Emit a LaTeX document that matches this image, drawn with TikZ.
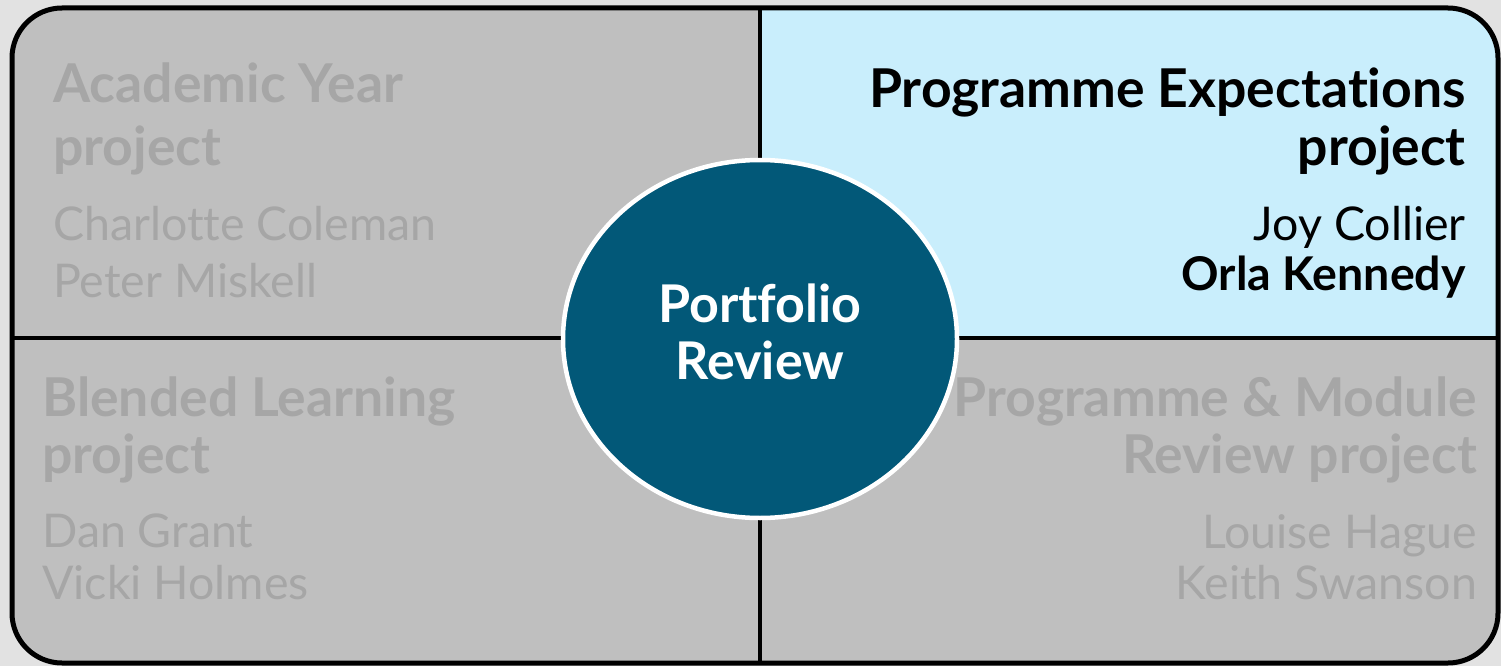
\documentclass[tikz,border=0pt]{standalone}
\usepackage{fontspec}
\setmainfont{Lato}[Ligatures=NoCommon]
\usetikzlibrary{shapes.geometric}

\definecolor{pagebg}{HTML}{E2E2E2}
\definecolor{quadgray}{HTML}{BFBFBF}
\definecolor{quadblue}{HTML}{C9EEFC}
\definecolor{dimtext}{HTML}{A6A6A6}
\definecolor{hubfill}{HTML}{025878}

\tikzset{
  frame/.style={line width=5pt, rounded corners=50pt},
  divider/.style={line width=4.5pt},
  headdim/.style={font=\fontsize{53.5}{62}\selectfont\bfseries, text=dimtext, inner sep=0pt},
  namedim/.style={font=\fontsize{46.5}{58}\selectfont, text=dimtext, inner sep=0pt},
  headon/.style={font=\fontsize{53.5}{62}\selectfont\bfseries, text=black, inner sep=0pt},
  nameon/.style={font=\fontsize{46.5}{58}\selectfont, text=black, inner sep=0pt},
  namebold/.style={font=\fontsize{46.5}{58}\selectfont\bfseries, text=black, inner sep=0pt},
  hub/.style={ellipse, fill=hubfill, draw=white, line width=4.5pt, inner sep=0pt,
              minimum width=394pt, minimum height=358pt},
  hubtext/.style={font=\fontsize{52}{56}\selectfont\bfseries, text=white, inner sep=0pt},
}

\begin{document}
\begin{tikzpicture}[x=1pt, y=-1pt]
  \useasboundingbox (0,0) rectangle (1501,666);
  \fill[pagebg] (0,0) rectangle (1501,666);

  % corners of the board and meeting points of the dividers
  \coordinate (tl) at (12,8);
  \coordinate (br) at (1498,663);
  \coordinate (top) at (760,8);
  \coordinate (bot) at (760,663);
  \coordinate (lft) at (12,338);
  \coordinate (rgt) at (1498,338);

  % quadrant fills, clipped to the rounded board
  \begin{scope}
    \clip[rounded corners=50pt] (tl) rectangle (br);
    \fill[quadgray] (tl) rectangle (br);
    \fill[quadblue] (top) rectangle (rgt);
  \end{scope}

  \draw[divider] (top) -- (bot);
  \draw[divider] (lft) -- (rgt);
  \draw[frame] (tl) rectangle (br);

  % top left
  \node[headdim, anchor=base west] (ay1) at (53,103) {Academic Year};
  \node[headdim, anchor=base west] (ay2) at (53,165) {project};
  \node[namedim, anchor=base west] (ay3) at (53,240) {Charlotte Coleman};
  \node[namedim, anchor=base west] (ay4) at (53,297) {Peter Miskell};

  % top right
  \node[headon, anchor=base east] (pe1) at (1466,108) {Programme Expectations};
  \node[headon, anchor=base east] (pe2) at (1466,165) {project};
  \node[nameon, anchor=base east] (pe3) at (1466,240) {Joy Collier};
  \node[namebold, anchor=base east] (pe4) at (1466,290) {Orla Kennedy};

  % bottom left
  \node[headdim, anchor=base west] (bl1) at (42,416) {Blended Learning};
  \node[headdim, anchor=base west] (bl2) at (42,473) {project};
  \node[namedim, anchor=base west] (bl3) at (42,547) {Dan Grant};
  \node[namedim, anchor=base west] (bl4) at (42,599) {Vicki Holmes};

  % bottom right
  \node[headdim, anchor=base east] (pm1) at (1477,416) {Programme \& Module};
  \node[headdim, anchor=base east] (pm2) at (1477,473) {Review project};
  \node[namedim, anchor=base east] (pm3) at (1477,548) {Louise Hague};
  \node[namedim, anchor=base east] (pm4) at (1477,599) {Keith Swanson};

  % centre
  \node[hub] (hubnode) at (760,339) {};
  \node[hubtext, anchor=base] (hub1) at (760,322) {Portfolio};
  \node[hubtext, anchor=base] (hub2) at (760,379) {Review};
\end{tikzpicture}
\end{document}
